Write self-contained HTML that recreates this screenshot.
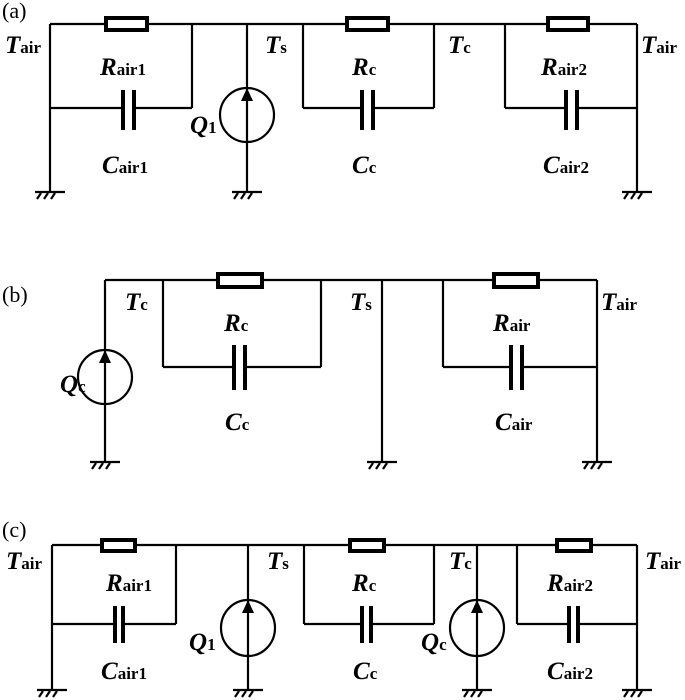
<!DOCTYPE html>
<html><head><style>
body{margin:0;background:#fff}
svg{display:block}
text{font-family:"Liberation Serif",serif;font-weight:bold;fill:#000}
.m{font-style:italic;font-size:25px}
.s{font-style:normal;font-size:17px}
.mc{font-style:italic;font-size:25px}
.sc{font-style:normal;font-size:17px}
.p{font-weight:normal;font-size:22px}
</style></head><body>
<svg width="685" height="700" viewBox="0 0 685 700" xmlns="http://www.w3.org/2000/svg">
<defs>
<g id="gnd" stroke="#000" stroke-width="2.2" fill="none">
<line x1="-15" y1="0" x2="15" y2="0"/>
<line x1="-9" y1="1" x2="-13" y2="7"/>
<line x1="-2" y1="1" x2="-6" y2="7"/>
<line x1="5" y1="1" x2="1" y2="7"/>
</g>
</defs>
<g stroke="#000" stroke-width="2.2" fill="none">
<!-- (a) -->
<line x1="50" y1="24" x2="637" y2="24"/>
<line x1="50" y1="24" x2="50" y2="192"/>
<line x1="192" y1="24" x2="192" y2="108"/>
<line x1="50" y1="108" x2="122" y2="108"/><line x1="134" y1="108" x2="192" y2="108"/>
<line x1="247" y1="24" x2="247" y2="192"/>
<circle cx="247" cy="115" r="27"/>
<line x1="303" y1="24" x2="303" y2="108"/><line x1="434" y1="24" x2="434" y2="108"/>
<line x1="303" y1="108" x2="361" y2="108"/><line x1="372" y1="108" x2="434" y2="108"/>
<line x1="505" y1="24" x2="505" y2="108"/><line x1="637" y1="24" x2="637" y2="192"/>
<line x1="505" y1="108" x2="565" y2="108"/><line x1="576" y1="108" x2="637" y2="108"/>
<!-- (b) -->
<line x1="105" y1="280" x2="597" y2="280"/>
<line x1="105" y1="280" x2="105" y2="462"/>
<circle cx="105" cy="377" r="27"/>
<line x1="163" y1="280" x2="163" y2="367"/><line x1="321" y1="280" x2="321" y2="367"/>
<line x1="163" y1="367" x2="233" y2="367"/><line x1="245" y1="367" x2="321" y2="367"/>
<line x1="382" y1="280" x2="382" y2="462"/>
<line x1="443" y1="280" x2="443" y2="367"/><line x1="597" y1="280" x2="597" y2="462"/>
<line x1="443" y1="367" x2="510" y2="367"/><line x1="521" y1="367" x2="597" y2="367"/>
<!-- (c) -->
<line x1="52" y1="545" x2="637" y2="545"/>
<line x1="52" y1="545" x2="52" y2="690"/>
<line x1="176" y1="545" x2="176" y2="624"/>
<line x1="52" y1="624" x2="115" y2="624"/><line x1="123" y1="624" x2="176" y2="624"/>
<line x1="248" y1="545" x2="248" y2="690"/>
<ellipse cx="248" cy="628" rx="27" ry="28"/>
<line x1="304" y1="545" x2="304" y2="624"/><line x1="434" y1="545" x2="434" y2="624"/>
<line x1="304" y1="624" x2="362" y2="624"/><line x1="371" y1="624" x2="434" y2="624"/>
<line x1="477" y1="545" x2="477" y2="690"/>
<ellipse cx="477" cy="628" rx="27" ry="28"/>
<line x1="517" y1="545" x2="517" y2="624"/><line x1="637" y1="545" x2="637" y2="690"/>
<line x1="517" y1="624" x2="569" y2="624"/><line x1="578" y1="624" x2="637" y2="624"/>
</g>
<!-- resistors -->
<g stroke="#000" stroke-width="4" fill="#fff">
<rect x="106" y="18" width="41" height="12"/>
<rect x="347" y="18" width="41" height="12"/>
<rect x="548" y="18" width="40" height="12"/>
<rect x="218" y="274" width="44" height="13"/>
<rect x="494" y="274" width="44" height="13"/>
<rect x="102" y="540" width="33" height="11"/>
<rect x="350" y="540" width="34" height="11"/>
<rect x="557" y="540" width="34" height="11"/>
</g>
<!-- capacitor plates -->
<g fill="#000">
<rect x="121" y="90" width="4" height="40"/><rect x="132" y="90" width="4" height="40"/>
<rect x="360" y="90" width="4" height="40"/><rect x="371" y="90" width="4" height="40"/>
<rect x="564" y="90" width="4" height="40"/><rect x="575" y="90" width="4" height="40"/>
<rect x="232" y="345" width="4" height="45"/><rect x="243" y="345" width="4" height="45"/>
<rect x="509" y="345" width="4" height="45"/><rect x="520" y="345" width="4" height="45"/>
<rect x="113" y="606" width="4" height="37"/><rect x="121" y="606" width="4" height="37"/>
<rect x="360" y="606" width="4" height="37"/><rect x="369" y="606" width="4" height="37"/>
<rect x="567" y="606" width="4" height="37"/><rect x="576" y="606" width="4" height="37"/>
<!-- arrows -->
<polygon points="247,88 241,101 253,101"/>
<polygon points="105,350 99,363 111,363"/>
<polygon points="248,600 242,613 254,613"/>
<polygon points="477,600 471,613 483,613"/>
</g>
<use href="#gnd" x="50" y="192"/><use href="#gnd" x="247" y="192"/><use href="#gnd" x="637" y="192"/>
<use href="#gnd" x="105" y="462"/><use href="#gnd" x="382" y="462"/><use href="#gnd" x="597" y="462"/>
<use href="#gnd" x="52" y="690"/><use href="#gnd" x="248" y="690"/><use href="#gnd" x="477" y="690"/><use href="#gnd" x="637" y="690"/>
<!-- labels -->
<text class="p" x="2" y="18">(a)</text>
<text x="5" y="53"><tspan class="m">T</tspan><tspan class="s">air</tspan></text>
<text x="100" y="75"><tspan class="m">R</tspan><tspan class="s">air1</tspan></text>
<text x="102" y="173"><tspan class="m">C</tspan><tspan class="s">air1</tspan></text>
<text x="190" y="133"><tspan class="m">Q</tspan><tspan class="s">1</tspan></text>
<text x="265" y="53"><tspan class="m">T</tspan><tspan class="s">s</tspan></text>
<text x="352" y="75"><tspan class="m">R</tspan><tspan class="s">c</tspan></text>
<text x="352" y="173"><tspan class="m">C</tspan><tspan class="s">c</tspan></text>
<text x="448" y="53"><tspan class="m">T</tspan><tspan class="s">c</tspan></text>
<text x="541" y="75"><tspan class="m">R</tspan><tspan class="s">air2</tspan></text>
<text x="543" y="173"><tspan class="m">C</tspan><tspan class="s">air2</tspan></text>
<text x="641" y="53"><tspan class="m">T</tspan><tspan class="s">air</tspan></text>

<text class="p" x="2" y="302">(b)</text>
<text x="125" y="310"><tspan class="m">T</tspan><tspan class="s">c</tspan></text>
<text x="224" y="331"><tspan class="m">R</tspan><tspan class="s">c</tspan></text>
<text x="225" y="430"><tspan class="m">C</tspan><tspan class="s">c</tspan></text>
<text x="60" y="392"><tspan class="m">Q</tspan><tspan class="s">c</tspan></text>
<text x="350" y="310"><tspan class="m">T</tspan><tspan class="s">s</tspan></text>
<text x="493" y="331"><tspan class="m">R</tspan><tspan class="s">air</tspan></text>
<text x="495" y="430"><tspan class="m">C</tspan><tspan class="s">air</tspan></text>
<text x="601" y="310"><tspan class="m">T</tspan><tspan class="s">air</tspan></text>

<text class="p" x="2" y="537">(c)</text>
<text x="6" y="569"><tspan class="mc">T</tspan><tspan class="sc">air</tspan></text>
<text x="106" y="591"><tspan class="mc">R</tspan><tspan class="sc">air1</tspan></text>
<text x="101" y="679"><tspan class="mc">C</tspan><tspan class="sc">air1</tspan></text>
<text x="189" y="650"><tspan class="mc">Q</tspan><tspan class="sc">1</tspan></text>
<text x="267" y="569"><tspan class="mc">T</tspan><tspan class="sc">s</tspan></text>
<text x="352" y="591"><tspan class="mc">R</tspan><tspan class="sc">c</tspan></text>
<text x="353" y="679"><tspan class="mc">C</tspan><tspan class="sc">c</tspan></text>
<text x="421" y="650"><tspan class="mc">Q</tspan><tspan class="sc">c</tspan></text>
<text x="449" y="569"><tspan class="mc">T</tspan><tspan class="sc">c</tspan></text>
<text x="547" y="591"><tspan class="mc">R</tspan><tspan class="sc">air2</tspan></text>
<text x="547" y="679"><tspan class="mc">C</tspan><tspan class="sc">air2</tspan></text>
<text x="645" y="569"><tspan class="mc">T</tspan><tspan class="sc">air</tspan></text>
</svg>
</body></html>
